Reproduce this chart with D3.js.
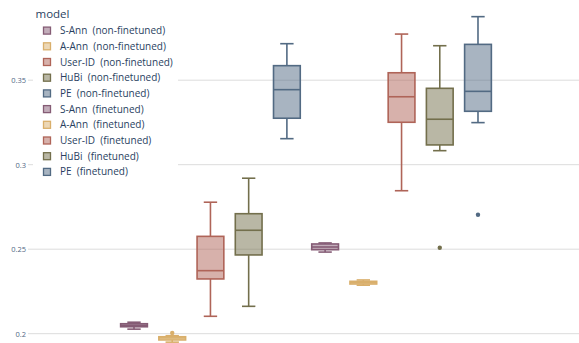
<!DOCTYPE html>
<html>
<head>
<meta charset="utf-8">
<script src="https://cdn.jsdelivr.net/npm/d3@7"></script>
<style>
  html, body { margin: 0; padding: 0; background: #fff; }
  svg { display: block; font-family: "Open Sans", "Noto Sans", sans-serif; }
</style>
</head>
<body>
<svg id="chart" width="579" height="343"></svg>
<script>
// Models and training variants
const models = ["S-Ann", "A-Ann", "User-ID", "HuBi", "PE"];
const variants = ["non-finetuned", "finetuned"];
const colors = ["rgb(133,92,117)", "rgb(217,175,107)", "rgb(175,100,88)", "rgb(115,111,76)", "rgb(82,106,131)"];

// Box statistics per trace, in order: 5 non-finetuned models, then 5 finetuned
const traceNames = ["S-Ann  (non-finetuned)", "A-Ann  (non-finetuned)", "User-ID  (non-finetuned)", "HuBi  (non-finetuned)", "PE  (non-finetuned)",
                    "S-Ann  (finetuned)", "A-Ann  (finetuned)", "User-ID  (finetuned)", "HuBi  (finetuned)", "PE  (finetuned)"];
const lowerFence = [0.2027, 0.1950, 0.2103, 0.2162, 0.3154, 0.2483, 0.2287, 0.2846, 0.3083, 0.3249];
const q1Values   = [0.2041, 0.1963, 0.2324, 0.2466, 0.3275, 0.2497, 0.2294, 0.3251, 0.3117, 0.3316];
const medians    = [0.2050, 0.1975, 0.2373, 0.2612, 0.3444, 0.2513, 0.2302, 0.3402, 0.3269, 0.3434];
const q3Values   = [0.2059, 0.1982, 0.2576, 0.2710, 0.3586, 0.2531, 0.2310, 0.3544, 0.3452, 0.3712];
const upperFence = [0.2068, 0.1988, 0.2778, 0.2920, 0.3716, 0.2537, 0.2318, 0.3773, 0.3704, 0.3876];
const outliers   = [[], [0.2004], [], [], [], [], [], [], [0.2509], [0.2704]];

// Axis ticks
const yTicks = [0.2, 0.25, 0.3, 0.35];
const yTickLabels = ["0.2", "0.25", "0.3", "0.35"];

const svg = d3.select("#chart");
const plot = { left: 33, right: 579, top: 0, bottom: 343 };

const y = d3.scaleLinear().domain([0.2, 0.35]).range([333.7, 80.2]);
const catWidth = plot.right - plot.left;
const x = d3.scaleBand()
  .domain(d3.range(traceNames.length))
  .range([plot.left + catWidth * 0.15, plot.right - catWidth * 0.15])
  .paddingInner(0.3)
  .paddingOuter(0.15);

const traceColor = i => colors[i % models.length];

// Grid lines
svg.append("g")
  .selectAll("line")
  .data(yTicks)
  .join("line")
  .attr("x1", plot.left - 5).attr("x2", plot.right)
  .attr("y1", d => y(d)).attr("y2", d => y(d))
  .attr("stroke", "#dcdcdc").attr("stroke-width", 1);

// Y axis labels
const yAxis = d3.axisLeft(y).tickValues(yTicks).tickFormat((d, i) => yTickLabels[i]).tickSize(0).tickPadding(6);
const ya = svg.append("g").attr("transform", `translate(${plot.left - 1},0)`).call(yAxis);
ya.select(".domain").remove();
ya.selectAll("text").attr("fill", "#506784").style("font-size", "7.5px").style("font-family", "'Open Sans', sans-serif");

// Boxes
const boxes = svg.append("g")
  .selectAll("g")
  .data(traceNames.map((n, i) => i))
  .join("g");

boxes.each(function (i) {
  const g = d3.select(this);
  const c = traceColor(i);
  const bw = x.bandwidth();
  const x0 = x(i);
  const cx = x0 + bw / 2;
  const capHalf = bw / 4;
  // whiskers
  g.append("line").attr("x1", cx).attr("x2", cx).attr("y1", y(q3Values[i])).attr("y2", y(upperFence[i]))
    .attr("stroke", c).attr("stroke-width", 1.6);
  g.append("line").attr("x1", cx).attr("x2", cx).attr("y1", y(q1Values[i])).attr("y2", y(lowerFence[i]))
    .attr("stroke", c).attr("stroke-width", 1.6);
  [upperFence[i], lowerFence[i]].forEach(v => {
    g.append("line").attr("x1", cx - capHalf).attr("x2", cx + capHalf).attr("y1", y(v)).attr("y2", y(v))
      .attr("stroke", c).attr("stroke-width", 1.6);
  });
  // box
  g.append("rect")
    .attr("x", x0).attr("width", bw)
    .attr("y", y(q3Values[i])).attr("height", Math.max(0.5, y(q1Values[i]) - y(q3Values[i])))
    .attr("fill", c).attr("fill-opacity", 0.5)
    .attr("stroke", c).attr("stroke-width", 1.6);
  // median
  g.append("line").attr("x1", x0).attr("x2", x0 + bw).attr("y1", y(medians[i])).attr("y2", y(medians[i]))
    .attr("stroke", c).attr("stroke-width", 1.6);
  // outliers
  g.selectAll("circle").data(outliers[i]).join("circle")
    .attr("cx", cx).attr("cy", d => y(d)).attr("r", 2.2).attr("fill", c);
});

// Legend
const legend = svg.append("g");
legend.append("rect").attr("x", 33).attr("y", 0).attr("width", 145).attr("height", 182).attr("fill", "#fff");
legend.append("text").attr("x", 35.5).attr("y", 18).text("model")
  .attr("fill", "#2a3f5f").style("font-size", "11.5px");
const items = legend.selectAll("g.item").data(traceNames).join("g").attr("class", "item")
  .attr("transform", (d, i) => `translate(0,${30.6 + i * 15.7})`);
items.append("rect").attr("x", 43.5).attr("y", -3.5).attr("width", 7).attr("height", 7)
  .attr("fill", (d, i) => traceColor(i)).attr("fill-opacity", 0.5)
  .attr("stroke", (d, i) => traceColor(i)).attr("stroke-width", 1.3);
// keep the double space between model name and variant
items.append("text").attr("x", 60).attr("y", 3.5).text(d => d.replace(/  /g, " \u00a0"))
  .attr("fill", "#2a3f5f").style("font-size", "10px");
</script>
</body>
</html>
